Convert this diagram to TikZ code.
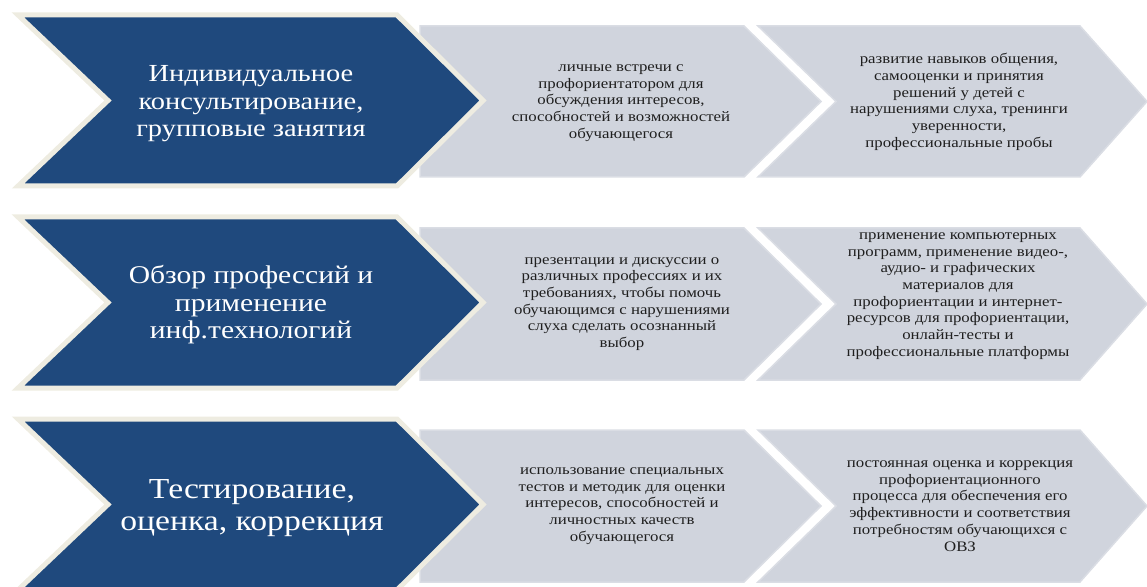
\documentclass[tikz,border=0pt]{standalone}
\usepackage{fontspec}
\setmainfont{Liberation Serif}
\newfontfamily\stretchserif[FakeStretch=1.16]{Liberation Serif}
\definecolor{darkblue}{HTML}{1F497D}
\definecolor{cream}{HTML}{EEECE1}
\definecolor{chevgray}{HTML}{D0D4DD}
\definecolor{chevedge}{HTML}{DADDE4}
\tikzset{
  darkchev/.style={fill=darkblue, draw=cream, line width=5bp, line join=miter},
  graychev/.style={fill=chevgray, draw=chevedge, line width=1.5bp, line join=miter},
  headtext/.style={text=white, align=center, inner sep=0pt},
  bodytext/.style={text=black!88, align=center, inner sep=0pt,
    font=\stretchserif\fontsize{14.5bp}{16.7bp}\selectfont},
}
\begin{document}
\begin{tikzpicture}[x=1bp,y=-1bp]
\useasboundingbox (0,0) rectangle (1147,587);
% gray chevrons
\foreach \T/\B in {26/177, 228/380, 430/582}{
  \pgfmathsetmacro\M{(\T+\B)/2}
  \draw[graychev] (420,\T) -- (744,\T) -- (821,\M) -- (744,\B) -- (420,\B) -- cycle;
  \draw[graychev] (758,\T) -- (1080,\T) -- (1147,\M) -- (1080,\B) -- (758,\B) -- (836,\M) -- cycle;
}
% dark chevrons
\foreach \T/\B in {15/186, 217/388, 419/590}{
  \pgfmathsetmacro\M{(\T+\B)/2}
  \draw[darkchev] (18,\T) -- (397,\T) -- (483,\M) -- (397,\B) -- (18,\B) -- (108,\M) -- cycle;
}
% headings
\node[headtext, font=\stretchserif\fontsize{24.5bp}{27.5bp}\selectfont] (h1) at (251,104)
  {Индивидуальное\\консультирование,\\групповые занятия};
\node[headtext, font=\stretchserif\fontsize{25.5bp}{27.5bp}\selectfont] (h2) at (251,305)
  {Обзор профессий и\\применение\\инф.технологий};
\node[headtext, font=\stretchserif\fontsize{29bp}{32.5bp}\selectfont] (h3) at (252,508)
  {Тестирование,\\оценка, коррекция};
% row 1
\node[bodytext] (a1) at (621,103)
  {личные встречи с\\профориентатором для\\обсуждения интересов,\\способностей и возможностей\\обучающегося};
\node[bodytext] (a2) at (959,102)
  {развитие навыков общения,\\самооценки и принятия\\решений у детей с\\нарушениями слуха, тренинги\\уверенности,\\профессиональные пробы};
% row 2
\node[bodytext] (b1) at (622,304)
  {презентации и дискуссии о\\различных профессиях и их\\требованиях, чтобы помочь\\обучающимся с нарушениями\\слуха сделать осознанный\\выбор};
\node[bodytext] (b2) at (958,296)
  {применение компьютерных\\программ, применение видео-,\\аудио- и графических\\материалов для\\профориентации и интернет-\\ресурсов для профориентации,\\онлайн-тесты и\\профессиональные платформы};
% row 3
\node[bodytext] (c1) at (622,506)
  {использование специальных\\тестов и методик для оценки\\интересов, способностей и\\личностных качеств\\обучающегося};
\node[bodytext] (c2) at (960,506)
  {постоянная оценка и коррекция\\профориентационного\\процесса для обеспечения его\\эффективности и соответствия\\потребностям обучающихся с\\ОВЗ};
\end{tikzpicture}
\end{document}
